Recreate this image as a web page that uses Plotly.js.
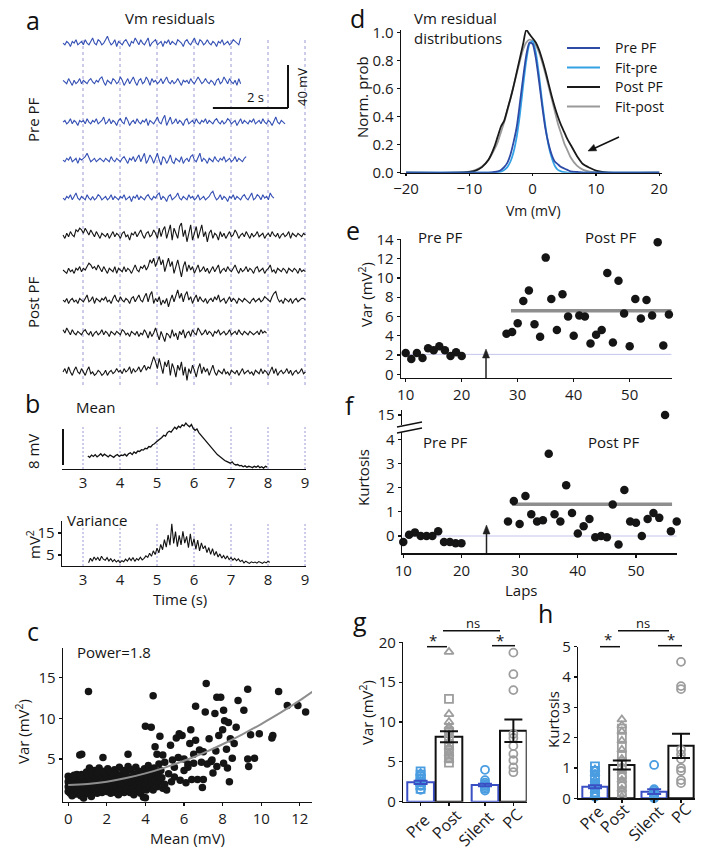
<!DOCTYPE html>
<html><head><meta charset="utf-8">
<script src="https://cdn.plot.ly/plotly-3.0.1.min.js"></script>
<style>html,body{margin:0;padding:0;background:#fff}#plot{width:704px;height:855px}</style>
</head><body><div id="plot"></div>
<script>
// ---------------- DATA ----------------
// panel a: Vm residuals (mV), sampled every 0.05 s from t = 2.46 s
const pre1=[0,-1,1,0,-2,1,0,2,-1,0, 1,-1,2,0,-1,1,3,0,-1,2, 1,-1,0,2,4,1,-1,0,2,-2, 1,0,-1,1,2,0,-2,1,0,3, 1,-1,2,0,-1,1,3,-2,0,1, 2,-1,0,1,-2,1,0,2,-1,1, 0,-1,2,1,0,-2,1,2,0,-1, 1,3,0,-1,2,1,-1,0,2,0, -1,1,0,-2,1,0,2,-1,0,1, -1,0,2,1,0,-1,3];
const pre2=[1,0,-1,2,0,-2,1,-1,0,2, -1,1,0,-1,1,2,0,-1,1,0, 2,3,0,-2,1,0,-1,2,1,-1, 0,3,1,-2,0,2,-1,1,3,0, -2,1,2,-1,0,3,1,-2,2,0, 1,-1,0,2,-1,1,3,0,-1,1, -1,0,2,0,-2,1,0,1,-1,2, 0,-1,1,3,1,-1,0,2,0,-1, 1,0,-2,1,2,-1,0,3,1,-1, 2,0,-1,1,-2,2,-1];
const pre3=[0,1,-1,0,2,-1,1,0,-2,1, 0,1,-1,2,0,-1,1,0,2,-1, 0,1,3,-1,0,2,-1,1,0,-2, 1,2,0,-1,3,1,-2,0,1,-1, 2,0,-1,1,0,2,-2,1,0,-1, 1,3,0,-1,2,4,-2,1,3,-1, 0,2,-1,1,0,-2,1,2,-1,0, 1,-1,2,0,-1,1,0,2,-1,1, 0,-1,1,2,0,-1,1,-1,0,2, 1,-1,0,1,-2,0,2,-1,1,0, -1,1,0,2,-1,0,1,-1,2,0, -1,1,0,-2,1,3,0,-1,1,0, -1];
const pre4=[0,-1,1,0,2,-1,0,1,-2,1, 0,1,2,4,1,-1,0,1,-1,0, 1,0,-1,1,0,-1,2,0,-1,1, 0,-1,1,2,0,-2,1,0,2,-1, 1,3,-1,2,4,-2,0,3,1,-2, 1,4,0,-3,2,1,-2,0,3,-1, -2,1,0,-1,2,-2,0,1,-1,2, 3,0,-1,2,4,-1,1,0,-2,1, 0,-1,2,0,-1,1,0,2,-1,0, 1,-1,0,2,-1,1,0,-1,1,2];
const pre5=[0,-1,1,0,2,-1,1,3,0,-1, 1,0,-1,2,0,-1,1,-1,0,2, 1,-1,0,1,-1,0,2,-1,1,0, -1,1,0,2,-1,0,1,-2,1,0, 2,-1,1,0,-1,1,2,0,-1,1, 0,2,3,-1,1,0,-2,1,2,-1, 0,1,3,0,-1,1,0,-1,2,0, 1,-1,0,2,-1,0,1,-1,0,1, 3,4,1,-1,0,2,-1,1,0,-2, 1,0,2,-1,1,0,-1,1,2,0, -1,1,3,-1,0,2,1,-1,2,0, 1,-1,3,1,0];
const post1=[0,-2,1,-1,2,0,-1,3,2,4, 3,1,4,2,0,3,1,-1,2,0, -2,1,0,-1,1,-2,0,2,-1,1, 0,-2,1,2,-1,0,-3,1,0,2, -1,1,3,0,-2,1,2,-1,0,3, 1,-2,4,-1,3,5,-2,2,6,-3, 4,1,-2,5,7,-1,3,-4,2,6, -3,1,5,-2,3,6,-1,2,-4,1, 3,-2,1,0,-3,2,-1,1,-2,0, 2,-1,0,3,1,-2,0,1,-1,2, 0,-2,1,-1,0,2,-1,0,1,-2, 0,1,-1,2,0,-1,1,-2,0,1, -1,0,2,-2,1,0,-1,1,0,-1, 1,0];
const post2=[0,-1,-2,1,-1,0,-2,1,0,2, -1,1,0,2,4,3,1,2,0,3, 1,-1,2,0,-2,1,0,-1,2,-2, 1,0,-1,2,-1,1,0,-2,1,3, 0,-1,2,1,3,0,2,6,4,7, 2,5,8,3,6,-1,4,7,2,5, -2,3,6,1,-4,2,5,-1,3,0, 2,-2,1,3,-1,0,2,-1,1,-2, 0,2,-1,1,3,-2,0,1,-1,2, 0,-1,1,3,0,-2,1,-1,0,2, -1,1,0,-2,1,2,-1,0,1,-2, 0,1,3,-1,0,-2,1,0,-1,1, 0,-2,1,0,-1,1,0,-2,1,-1, 0,-1];
const post3=[0,-1,1,-2,0,1,-1,0,-2,1, 0,-1,1,3,-1,0,2,-2,1,0, -1,1,0,2,-1,0,-2,1,3,0, -1,2,0,-1,1,0,-2,1,2,-1, 1,3,0,-1,2,4,-1,3,5,-2, 1,-1,2,-3,0,-2,1,-4,0,3, -1,2,6,1,4,-1,3,5,0,2, -2,1,3,-1,2,0,-1,1,-2,0, 1,-1,2,0,3,-1,0,1,-2,0, 2,-1,1,0,-2,1,0,-1,1,0, -1,-2,0,1,-1,0,1,-1,0,2, 1,0,-1,2,4,5,1,-1,0,-2, 1,0,-1,1,-2,0,1,-1,0,1, 1,0];
const post4=[2,0,3,1,-1,2,0,-1,1,0, -1,1,2,0,-1,1,-2,0,1,-1, 0,2,-1,1,0,-2,1,0,-1,1, 0,-1,2,1,-1,0,-2,1,0,-1, 1,-2,0,-1,2,0,-3,1,-2,0, 3,-1,-4,1,-2,-5,0,-1,-3,2, -2,0,-4,1,-1,2,-3,0,1,-2, 2,0,-1,3,1,-1,0,2,-1,1, 0,-2,1,0,2,-1,0,1,-1,0, 2,-1,0,1,-1,2,0,-1,1,0, -1,1,0,-1,0,1,-1,2,0,1, 0];
const post5=[0,2,-1,3,0,-2,1,3,0,-1, 2,0,-2,1,3,-1,0,-2,-1,1, 0,-2,-1,1,-2,0,1,-1,0,2, 0,1,-1,2,0,1,3,-1,2,0, 1,3,0,2,4,1,3,2,5,9, 6,2,8,4,-1,6,3,7,-2,5, 2,-3,4,1,6,-2,3,-5,2,-1, 4,1,-3,2,5,-1,3,0,2,-2, 1,4,0,-2,1,0,-1,2,-1,0, -2,1,0,-1,1,-2,0,2,-1,0, 1,-1,0,-2,1,0,-1,2,-1,1, 0,-2,1,3,-1,2,-2,0,1,-1, 0,2,-1,1,-2,0,1,-1,0,2, -1,0];
const aTimeTicks=[3,4,5,6,7,8,9];

// panel b: mean (mV) from t=3.13 s and variance (mV^2) from t=3.15 s, every 0.05 s
const bMean=[2.9,2.6,3.1,2.8,3.2,2.7,3.0,3.4,2.9,3.3, 3.0,2.7,3.1,2.9,2.6,3.0,3.2,2.8,3.1,3.0, 3.3,2.9,3.4,3.6,3.2,3.8,3.5,4.0,3.9,4.3, 4.2,4.6,4.5,5.0,4.9,5.4,5.6,6.0,6.3,6.6, 7.0,7.5,7.3,8.1,8.4,8.2,8.8,9.3,8.9,9.5, 9.2,9.8,9.6,10.2,9.7,9.4,9.9,9.0,8.6,8.9, 8.1,7.6,7.2,6.6,6.1,5.6,5.0,4.6,4.1,3.7, 3.2,2.9,2.5,2.2,1.9,1.7,1.5,1.3,1.6,1.1, 0.9,1.0,0.7,0.8,0.5,0.7,0.4,0.6,0.5,0.3, 0.6,0.4,0.7,0.3,0.5,0.2,0.6,0.4];
const bVar=[1.5,3.5,2.2,4.1,2.8,3.9,2.4,4.4,3.1,2.6, 3.8,2.3,3.3,2.0,2.9,1.8,2.6,1.5,2.4,1.9, 3.1,2.2,3.6,2.5,3.9,2.1,3.4,2.7,4.0,2.8, 3.5,4.6,3.9,5.8,4.4,6.9,5.2,8.1,6.0,9.8, 7.4,12.0,8.6,14.1,9.5,19.2,10.3,15.6,8.8,13.9, 9.6,15.8,10.4,13.5,8.3,14.6,9.0,12.4,7.6,11.8, 6.9,10.5,7.8,9.2,6.1,8.4,5.3,7.9,4.8,6.6, 4.1,5.5,3.6,4.8,3.2,4.6,2.9,3.8,2.7,3.5, 2.4,3.2,2.0,2.6,1.4,2.2,1.6,1.2,1.9,1.5, 1.8,1.3,2.0,1.6,1.2,1.9,1.4,2.1,1.7];

// panel c: Var vs Mean
const cMean=[0.0,0.0,0.0,0.05,0.1,0.1,0.15,0.2,0.2,0.25,0.3,0.3,0.35,0.4,0.4,0.45,0.5,0.5,0.55,0.6,0.6,0.65,0.7,0.7,0.75,0.8,0.8,0.85,0.9,0.9,0.95,1.0,1.0,1.05,1.1,1.1,1.15,1.2,1.25,1.3,1.3,1.35,1.4,1.45,1.5,1.5,1.55,1.6,1.6,1.65,1.7,1.75,1.8,1.8,1.85,1.9,1.95,2.0,2.0,2.05,2.1,2.15,2.2,2.2,2.25,2.3,2.35,2.4,2.4,2.45,2.5,2.5,2.55,2.6,2.65,2.7,2.7,2.75,2.8,2.85,2.9,2.9,2.95,3.0,3.0,3.05,3.1,3.15,3.2,3.2,3.25,3.3,3.35,3.4,3.45,3.5,3.5,3.55,3.6,3.65,3.7,3.7,3.75,3.8,3.85,3.9,3.9,3.95,4.0,4.0,4.05,4.1,4.1,4.15,4.2,4.25,4.3,4.35,4.4,4.45,4.5,4.55,4.6,4.65,4.7,4.75,4.8,4.85,4.9,0.2,0.45,1.2,2.6,3.4,0.0,0.3,0.65,
 4.4,1.05,0.6,0.7,1.8,3.1,4.0,4.3,4.75,4.5,4.6,5.0,5.1,5.0,5.2,5.3,5.4,5.5,5.6,5.7,5.75,5.8,5.9,6.0,6.0,6.1,6.2,6.3,6.35,6.4,6.5,6.6,6.6,6.7,6.8,6.9,6.95,7.0,7.0,7.1,7.15,7.2,7.3,7.4,7.5,7.6,7.65,7.7,7.7,7.8,7.9,7.95,8.0,8.05,8.1,8.2,8.25,8.3,8.35,8.4,8.5,8.6,8.7,8.8,9.1,9.3,9.3,9.35,9.45,9.65,9.9,10.55,10.6,10.9,11.35,11.9,12.3,12.8,5.5,6.2,4.9,5.35,6.5,7.45,8.05];
const cVar=[1.0,1.6,2.2,2.6,1.3,0.8,2.0,2.8,1.5,0.9,2.3,1.1,1.8,2.6,0.7,1.4,2.1,3.0,1.0,1.7,2.5,0.5,1.2,3.1,2.0,0.2,2.7,1.5,0.9,2.3,3.4,1.9,1.1,2.8,0.7,3.9,1.6,2.4,3.1,1.0,2.0,3.6,1.4,2.7,0.8,3.3,2.2,1.2,3.9,1.8,2.9,0.9,2.4,3.5,1.4,2.0,3.1,1.0,2.7,3.8,1.6,2.3,3.4,0.8,1.9,2.9,1.2,3.7,2.2,0.9,1.6,3.2,2.6,1.1,4.0,2.0,3.0,1.4,2.5,3.6,0.9,1.9,2.9,1.3,3.4,2.3,4.1,1.7,2.8,0.9,3.7,2.1,1.3,3.1,2.5,1.0,4.0,1.8,2.9,3.5,1.4,2.2,0.8,3.2,2.6,1.7,0.3,3.8,0.25,2.1,1.2,3.0,2.4,4.2,1.6,3.5,2.0,2.8,1.2,3.9,2.4,3.2,1.6,2.9,4.4,2.2,3.6,2.7,1.4,0.5,3.1,0.4,0.6,0.6,2.9,3.0,2.9,
 12.8,13.3,5.5,5.6,5.2,5.6,9.05,8.9,7.8,6.5,5.6,4.6,1.2,1.9,3.2,6.7,4.9,2.8,7.6,5.2,8.1,2.4,7.9,3.6,5.0,2.1,4.4,6.9,8.6,2.5,5.6,7.3,11.5,2.5,6.1,4.6,1.5,5.9,2.5,10.8,14.3,4.4,7.5,4.7,3.3,10.6,6.0,12.6,4.1,7.9,12.6,18.8,8.6,11.0,9.7,6.2,3.9,9.5,2.2,7.5,5.1,6.9,8.9,12.2,11.0,13.6,5.0,4.1,8.0,5.1,8.1,7.6,7.9,13.3,11.6,11.6,10.8,7.5,4.0,4.0,5.5,2.2,4.5,4.9,4.5];
const cFitX=[0,1,2,3,4,5,6,7,8,9,10,11,12,12.9];
const cFitY=[1.8,1.92,2.21,2.66,3.24,3.95,4.79,5.74,6.82,8.01,9.31,10.7,12.21,13.69];

// panel d: residual distributions
const dVm=[-20,-12,-10,-9,-8,-7,-6,-5.5,-5,-4.5,-4,-3.5,-3,-2.5,-2,-1.5,-1,-0.5,0,0.5,1,1.5,2,2.5,3,3.5,4,4.5,5,5.5,6,7,8,9,10,11,12,20];
const dPrePF=[0,0,0,0,0,0,0.005,0.01,0.02,0.04,0.07,0.13,0.22,0.33,0.5,0.68,0.84,0.93,0.92,0.82,0.66,0.48,0.32,0.21,0.13,0.08,0.06,0.04,0.03,0.02,0.01,0.005,0,0,0,0,0,0];
const dFitPre=[0,0,0,0,0,0,0,0.003,0.008,0.02,0.04,0.08,0.15,0.26,0.42,0.62,0.8,0.92,0.94,0.86,0.7,0.51,0.34,0.2,0.11,0.05,0.02,0.01,0.004,0,0,0,0,0,0,0,0,0];
const dPostPF=[0,0,0.005,0.015,0.04,0.09,0.19,0.26,0.33,0.37,0.45,0.53,0.62,0.72,0.82,0.92,1.02,0.99,0.96,0.93,0.88,0.81,0.73,0.64,0.55,0.47,0.4,0.34,0.29,0.24,0.2,0.12,0.06,0.035,0.015,0.006,0,0];
const dFitPost=[0,0,0.008,0.02,0.045,0.09,0.17,0.22,0.29,0.36,0.44,0.53,0.62,0.71,0.8,0.88,0.93,0.95,0.94,0.91,0.86,0.79,0.71,0.62,0.53,0.44,0.35,0.28,0.21,0.16,0.11,0.05,0.02,0.008,0.003,0,0,0];
const dLegend=['Pre PF','Fit-pre','Post PF','Fit-post'];

// panel e: variance per lap
const eLapsPre=[10,11,12,13,14,15,16,17,18,19,20];
const eVarPre=[2.2,1.6,2.2,1.7,2.7,2.5,2.9,2.5,1.9,2.3,1.9];
const eLapsPost=[28,29,30,31,32,33,34,35,36,37,38,39,40,41,42,43,44,45,46,47,48,49,50,51,52,53,54,55,56,57,58];
const eVarPost=[4.2,4.4,5.3,7.6,8.7,5.2,3.9,12.1,7.8,4.6,8.3,6.0,4.0,6.1,6.0,3.2,4.1,4.6,10.5,3.3,9.7,6.3,2.9,7.8,5.8,7.7,6.1,13.7,3.0,6.2,8.0];
const eMeanPost=6.6, eMeanLaps=[28.8,57.5], ePreLevel=2.07;

// panel f: kurtosis per lap
const fLapsPre=[10,11,12,13,14,15,16,17,18,19,20];
const fKurtPre=[-0.25,0.05,0.15,0.0,0.0,0.0,0.2,-0.25,-0.25,-0.3,-0.3];
const fLapsPost=[28,29,30,31,32,33,34,35,36,37,38,39,40,41,42,43,44,45,46,47,48,49,50,51,52,53,54,55,56,57];
const fKurtPost=[0.6,1.45,0.5,1.65,0.9,0.6,0.65,3.4,0.9,0.6,2.1,0.95,0.1,0.4,0.7,-0.05,0.0,-0.05,1.3,-0.35,1.9,0.6,0.55,0.0,0.7,0.95,0.75,15,0.2,0.6];
const fMeanPost=1.31, fMeanLaps=[28.7,56.2];

// panels g & h
const groups=['Pre','Post','Silent','PC'];
const gVarMean=[2.43,8.15,2.1,8.9], gVarSem=[0.2,0.7,0.15,1.4];
const gPreSq=[3.8,3.4,2.9,2.5,2.1,1.6], gPreTri=[3.6,3.0,2.6,2.2,1.8], gPreCirc=[3.2,2.4,2.0,1.5];
const gPostTri=[18.8,11.0,10.0,9.4,8.4,7.6,6.8,6.0,5.2], gPostSq=[12.9,8.8,7.2,6.4,5.6,4.9], gPostCirc=[9.0,7.9,6.6,5.9];
const gSilent=[4.0,2.7,2.4,2.2,2.0,1.8,1.6,1.4];
const gPC=[18.7,16.0,14.0,8.5,8.0,7.0,6.0,5.2,4.3,3.7];
const hKurtMean=[0.38,1.1,0.22,1.73], hKurtSem=[0.05,0.15,0.08,0.4];
const hPreSq=[1.05,0.9,0.7,0.5,0.35,0.2], hPreTri=[0.95,0.8,0.6,0.4,0.25,0.1], hPreCirc=[0.45,0.3,0.15,0.05];
const hPostTri=[2.6,2.4,2.2,1.9,1.6,1.3,0.9,0.6,0.3,0.05], hPostSq=[2.3,2.0,1.7,1.4,1.2,0.8,0.5,0.2], hPostCirc=[1.0,0.7,0.4,0.1];
const hSilent=[1.1,0.3,0.25,0.2,0.15,0.1,0.05,0.0];
const hPC=[4.5,3.7,3.6,1.6,1.45,1.3,1.0,0.9,0.6,0.5];

// ---------------- LAYOUT HELPERS ----------------
const W=704,H=855;
const F="'Open Sans','Noto Sans',sans-serif";
const BLUE_A='#3550b4', DBLUE='#2c4aa6', LBLUE='#35a2e6', GRAY='#8e8e8e', LAV='#9a9ad6', BAR_BLUE='#3b4fc4', PT_BLUE='#4a9de0', PT_GRAY='#9d9d9d';
const dxp=(a,b)=>[a/W,b/W], dyp=(t,b)=>[1-b/H,1-t/H];
const tArr=(t0,n,dt)=>Array.from({length:n},(_,i)=>+(t0+i*dt).toFixed(3));
const fill=(n,v)=>Array(n).fill(v);
function axis(domain,range,extra){return Object.assign({domain,range,showgrid:false,zeroline:false,showline:true,linecolor:'#111',linewidth:1.4,ticks:'outside',ticklen:3,tickwidth:1.3,tickcolor:'#111',tickfont:{family:F,size:15,color:'#1a1a1a'},fixedrange:true,tickmode:'array'},extra);}
function A(text,x,y,o){return Object.assign({text,x:x/W,y:1-y/H,xref:'paper',yref:'paper',showarrow:false,font:{family:F,size:15,color:'#151515'},xanchor:'center',yanchor:'middle'},o||{});}
function L(x0,y0,x1,y1,color,width,dash){return {type:'line',xref:'paper',yref:'paper',x0:x0/W,y0:1-y0/H,x1:x1/W,y1:1-y1/H,line:{color,width,dash:dash||'solid'}};}
function TRI(pts,color){return {type:'path',xref:'paper',yref:'paper',path:'M'+pts.map(p=>(p[0]/W).toFixed(5)+','+(1-p[1]/H).toFixed(5)).join(' L')+' Z',fillcolor:color,line:{color,width:0.5}};}

const traces=[];
// ---- panel a ----
const aDT=0.05, aT0=2.46;
const preBase=[204.1,181.2,157.6,135.3,112.9], postBase=[91.2,70.6,52.9,33.5,10.6];
[pre1,pre2,pre3,pre4,pre5].forEach((v,k)=>traces.push({x:tArr(aT0,v.length,aDT),y:v.map(d=>d+preBase[k]),xaxis:'x',yaxis:'y',mode:'lines',line:{color:BLUE_A,width:1.1},hoverinfo:'skip'}));
[post1,post2,post3,post4,post5].forEach((v,k)=>traces.push({x:tArr(aT0,v.length,aDT),y:v.map(d=>d+postBase[k]),xaxis:'x',yaxis:'y',mode:'lines',line:{color:'#151515',width:1.1},hoverinfo:'skip'}));
// ---- panel b ----
traces.push({x:tArr(3.13,bMean.length,0.05),y:bMean,xaxis:'x2',yaxis:'y2',mode:'lines',line:{color:'#111',width:1.3}});
traces.push({x:tArr(3.15,bVar.length,0.05),y:bVar,xaxis:'x3',yaxis:'y3',mode:'lines',line:{color:'#111',width:1.1}});
// ---- panel c ----
traces.push({x:cMean,y:cVar,xaxis:'x4',yaxis:'y4',mode:'markers',marker:{color:'#151515',size:7.5},cliponaxis:false});
traces.push({x:cFitX,y:cFitY,xaxis:'x4',yaxis:'y4',mode:'lines',line:{color:GRAY,width:2,shape:'spline'}});
// ---- panel d ----
[[dFitPost,'#9a9a9a'],[dPostPF,'#1a1a1a'],[dFitPre,LBLUE],[dPrePF,DBLUE]].forEach(([v,c])=>traces.push({x:dVm,y:v,xaxis:'x5',yaxis:'y5',mode:'lines',line:{color:c,width:1.8,shape:'spline',smoothing:0.6}}));
// ---- panel e ----
traces.push({x:[10,57.5],y:[ePreLevel,ePreLevel],xaxis:'x6',yaxis:'y6',mode:'lines',line:{color:'#c4c4ec',width:1}});
traces.push({x:eMeanLaps,y:[eMeanPost,eMeanPost],xaxis:'x6',yaxis:'y6',mode:'lines',line:{color:GRAY,width:3.5}});
traces.push({x:eLapsPre.concat(eLapsPost),y:eVarPre.concat(eVarPost),xaxis:'x6',yaxis:'y6',mode:'markers',marker:{color:'#151515',size:8.5},cliponaxis:false});
// ---- panel f ----
traces.push({x:[10,57],y:[0,0],xaxis:'x7',yaxis:'y7',mode:'lines',line:{color:'#c4c4ec',width:1}});
traces.push({x:fMeanLaps,y:[fMeanPost,fMeanPost],xaxis:'x7',yaxis:'y7',mode:'lines',line:{color:GRAY,width:3.5}});
const fAllL=fLapsPre.concat(fLapsPost), fAllK=fKurtPre.concat(fKurtPost);
traces.push({x:fAllL.filter((_,i)=>fAllK[i]<5),y:fAllK.filter(k=>k<5),xaxis:'x7',yaxis:'y7',mode:'markers',marker:{color:'#151515',size:8.5},cliponaxis:false});
traces.push({x:fAllL.filter((_,i)=>fAllK[i]>=5),y:fAllK.filter(k=>k>=5),xaxis:'x7',yaxis:'y8',mode:'markers',marker:{color:'#151515',size:8.5},cliponaxis:false});
// ---- panels g/h ----
function barPanel(xa,ya,pos,means,sems,sets){
  traces.push({type:'bar',x:[pos[0],pos[2]],y:[means[0],means[2]],width:0.94,xaxis:xa,yaxis:ya,marker:{color:'rgba(255,255,255,1)',line:{color:BAR_BLUE,width:2}}});
  traces.push({type:'bar',x:[pos[1],pos[3]],y:[means[1],means[3]],width:0.94,xaxis:xa,yaxis:ya,marker:{color:'rgba(255,255,255,1)',line:{color:'#111',width:2}}});
  sets.forEach(([vals,p,sym,col])=>traces.push({x:fill(vals.length,pos[p]),y:vals,xaxis:xa,yaxis:ya,mode:'markers',cliponaxis:false,marker:{symbol:sym,size:8,color:col,line:{color:col,width:1.8}}}));
  traces.push({x:[pos[0],pos[2]],y:[means[0],means[2]],xaxis:xa,yaxis:ya,mode:'markers',marker:{size:1,opacity:0},error_y:{type:'data',array:[sems[0],sems[2]],color:BAR_BLUE,thickness:2,width:7}});
  traces.push({x:[pos[1],pos[3]],y:[means[1],means[3]],xaxis:xa,yaxis:ya,mode:'markers',marker:{size:1,opacity:0},error_y:{type:'data',array:[sems[1],sems[3]],color:'#111',thickness:2,width:9}});
}
const gPos=[0,1,2.27,3.27], hPos=[0,1,2.2,3.2];
barPanel('x8','y9',gPos,gVarMean,gVarSem,[[gPreSq,0,'square-open',PT_BLUE],[gPreTri,0,'triangle-up-open',PT_BLUE],[gPreCirc,0,'circle-open',PT_BLUE],[gPostTri,1,'triangle-up-open',PT_GRAY],[gPostSq,1,'square-open',PT_GRAY],[gPostCirc,1,'circle-open',PT_GRAY],[gSilent,2,'circle-open',PT_BLUE],[gPC,3,'circle-open',PT_GRAY]]);
barPanel('x9','y10',hPos,hKurtMean,hKurtSem,[[hPreSq,0,'square-open',PT_BLUE],[hPreTri,0,'triangle-up-open',PT_BLUE],[hPreCirc,0,'circle-open',PT_BLUE],[hPostTri,1,'triangle-up-open',PT_GRAY],[hPostSq,1,'square-open',PT_GRAY],[hPostCirc,1,'circle-open',PT_GRAY],[hSilent,2,'circle-open',PT_BLUE],[hPC,3,'circle-open',PT_GRAY]]);

// ---------------- LAYOUT ----------------
const shapes=[];
aTimeTicks.forEach(t=>{
  shapes.push({type:'line',xref:'x',yref:'paper',x0:t,x1:t,y0:1-385/H,y1:1-40/H,line:{color:LAV,width:1,dash:'3px,3px'},layer:'below'});
  shapes.push({type:'line',xref:'x2',yref:'paper',x0:t,x1:t,y0:1-469/H,y1:1-426/H,line:{color:LAV,width:1,dash:'2px,2px'},layer:'below'});
  shapes.push({type:'line',xref:'x3',yref:'paper',x0:t,x1:t,y0:1-566/H,y1:1-523/H,line:{color:LAV,width:1,dash:'2px,2px'},layer:'below'});
});
// scale bars
shapes.push({type:'line',xref:'x',yref:'paper',x0:6.51,x1:8.54,y0:1-108/H,y1:1-108/H,line:{color:'#111',width:2}});
shapes.push({type:'line',xref:'x',yref:'paper',x0:8.54,x1:8.54,y0:1-108/H,y1:1-65/H,line:{color:'#111',width:2}});
shapes.push(L(63,429,63,465,'#111',2));
// legend d
const legY=[48,67.5,87,106.5];
[DBLUE,LBLUE,'#1a1a1a','#9a9a9a'].forEach((c,i)=>shapes.push(L(567,legY[i],600,legY[i],c,2)));
// arrows (d, e, f)
shapes.push(L(619,137,594,148.5,'#111',1.5), TRI([[588,151],[596.7,150.8],[593.8,144.4]],'#111'));
shapes.push(L(486,378,486,357,'#222',1.5), TRI([[486,349],[482.5,358],[489.5,358]],'#222'));
shapes.push(L(486.5,553,486.5,533,'#222',1.5), TRI([[486.5,525],[483,534],[490,534]],'#222'));
// break marks f
shapes.push({type:'rect',xref:'paper',yref:'paper',x0:398/W,x1:406/W,y0:1-430/H,y1:1-425/H,line:{width:0},fillcolor:'#fff'});
shapes.push(L(397,427,422,422,'#111',1.3));
shapes.push(L(397,433,422,428,'#111',1.3));
// significance lines g,h
shapes.push(L(427,646.7,447,646.7,'#111',1.5),L(443,630.7,500,630.7,'#111',1.5),L(492,645.7,515,645.7,'#111',1.5));
shapes.push(L(600,646.7,620,646.7,'#111',1.5),L(618,630.7,669,630.7,'#111',1.5),L(658,645.7,682,645.7,'#111',1.5));

const big={family:F,size:25,color:'#111'};
const cat={family:F,size:16,color:'#1a1a1a'};
const annotations=[
  A('a',33,20,{font:big}),A('b',32,403,{font:big}),A('c',33,631,{font:big}),A('d',357,18,{font:big}),
  A('e',353,230,{font:big}),A('f',350,405,{font:big}),A('g',360,621,{font:big}),A('h',545,613,{font:big}),
  A('Vm residuals',170,18),
  A('Pre PF',33,120,{textangle:-90}),A('Post PF',33,303,{textangle:-90}),
  A('2 s',255,97,{font:{family:F,size:13,color:'#111'}}),A('40 mV',302,87,{textangle:-90,font:{family:F,size:13,color:'#111'}}),
  A('Mean',95,407),A('8 mV',33,452,{textangle:-90}),A('Variance',97,520),A('mV<sup>2</sup>',33,545,{textangle:-90}),
  A('Time (s)',180,599),
  A('Power=1.8',114,652),A('Var (mV<sup>2</sup>)',22,732,{textangle:-90}),A('Mean (mV)',187,838),
  A('Vm residual<br>distributions',412,28,{xanchor:'left',align:'left'}),A('Norm. prob',362,97,{textangle:-90}),A('Vm (mV)',533,210,{font:{family:F,size:14,color:'#151515'}}),
  A('Pre PF',440,237),A('Post PF',610,237),A('Var (mV<sup>2</sup>)',365,295,{textangle:-90}),
  A('Pre PF',445,442),A('Post PF',613,442),A('Kurtosis',363,478,{textangle:-90}),A('Laps',521,590),
  A('Var (mV<sup>2</sup>)',366,713,{textangle:-90}),A('Kurtosis',553,720,{textangle:-90}),
  A('ns',473,623,{font:{family:F,size:13,color:'#111'}}),A('*',433,640),A('*',500,640),
  A('ns',643,623,{font:{family:F,size:13,color:'#111'}}),A('*',608,639),A('*',671,639)
];
dLegend.forEach((t,i)=>annotations.push(A(t,613,legY[i],{xanchor:'left',font:{family:F,size:14,color:'#151515'}})));
// rotated group labels under g and h
[[417.5,826],[446.5,824],[475.5,828.5],[511.5,818.5]].forEach((p,i)=>annotations.push(A(groups[i],p[0],p[1],{textangle:-45,font:cat})));
[[591,818],[614.5,818],[646,823],[681,813]].forEach((p,i)=>annotations.push(A(groups[i],p[0],p[1],{textangle:-45,font:cat})));

const layout={
  width:W,height:H,margin:{l:0,r:0,t:0,b:0},paper_bgcolor:'#fff',plot_bgcolor:'rgba(0,0,0,0)',showlegend:false,barmode:'overlay',hovermode:false,
  xaxis:{domain:dxp(55,315),range:[2.243,9.27],visible:false,anchor:'y',fixedrange:true},
  yaxis:{domain:dyp(30,390),range:[0,211.8],visible:false,anchor:'x',fixedrange:true},
  xaxis2:axis(dxp(62,306),[2.432,9.027],{anchor:'y2',tickvals:aTimeTicks,ticks:'',ticklen:0}),
  yaxis2:{domain:dyp(420,469),range:[0,10.9],visible:false,anchor:'x2',fixedrange:true},
  xaxis3:axis(dxp(62,306),[2.432,9.027],{anchor:'y3',tickvals:aTimeTicks,ticks:'',ticklen:0}),
  yaxis3:axis(dyp(521,566),[0,20.45],{anchor:'x3',tickvals:[5,15]}),
  xaxis4:axis(dxp(63,312),[-0.27,12.63],{anchor:'y4',tickvals:[0,2,4,6,8,10,12]}),
  yaxis4:axis(dyp(648,802),[-0.28,18.66],{anchor:'x4',tickvals:[5,10,15]}),
  xaxis5:axis(dxp(401,661.7),[-20.8,20.4],{anchor:'y5',tickvals:[-20,-10,0,10,20],ticklen:2}),
  yaxis5:axis(dyp(29.9,172.7),[0,1.02],{anchor:'x5',tickvals:[0,0.2,0.4,0.6,0.8,1.0],ticktext:['0.0','0.2','0.4','0.6','0.8','1.0']}),
  xaxis6:axis(dxp(401,671.7),[9.16,57.5],{anchor:'y6',tickvals:[10,20,30,40,50]}),
  yaxis6:axis(dyp(239.3,377.7),[-0.35,14],{anchor:'x6',tickvals:[0,2,4,6,8,10,12,14]}),
  xaxis7:axis(dxp(402,677.3),[9.78,57.1],{anchor:'y7',tickvals:[10,20,30,40,50]}),
  yaxis7:axis(dyp(432,553.3),[-0.715,4.3],{anchor:'x7',tickvals:[0,1,2,3,4]}),
  yaxis8:axis(dyp(410,425),[14,15.5],{anchor:'x7',tickvals:[15]}),
  xaxis8:axis(dxp(403.3,526.7),[-0.61,3.74],{anchor:'y9',tickvals:gPos,showticklabels:false}),
  yaxis9:axis(dyp(642.3,801.7),[0,20],{anchor:'x8',tickvals:[0,5,10,15,20]}),
  xaxis9:axis(dxp(578.3,695),[-0.62,3.72],{anchor:'y10',tickvals:hPos,showticklabels:false}),
  yaxis10:axis(dyp(646.7,798.3),[0,5],{anchor:'x9',tickvals:[0,1,2,3,4,5]}),
  shapes,annotations
};
Plotly.newPlot('plot',traces,layout,{staticPlot:true,displayModeBar:false});
</script></body></html>
